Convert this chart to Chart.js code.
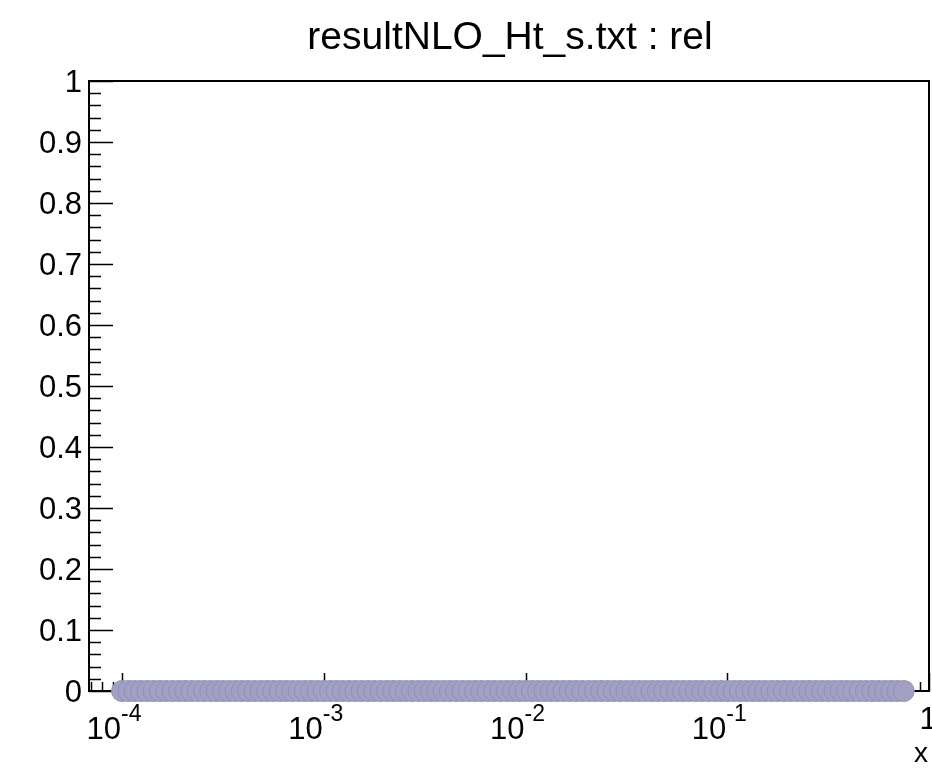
<!DOCTYPE html>
<html>
<head>
<meta charset="utf-8">
<script src="https://cdn.jsdelivr.net/npm/chart.js@4/dist/chart.umd.min.js"></script>
<style>
  html, body { margin: 0; padding: 0; background: #ffffff; }
  #wrap { width: 932px; height: 770px; position: relative; }
</style>
</head>
<body>
<div id="wrap"><canvas id="c" width="932" height="770"></canvas></div>
<script>
// ---- data ----
const chartTitle = "resultNLO_Ht_s.txt : rel";
const xAxisTitle = "x";
const xValues = [
  1.000e-4, 1.075e-4, 1.155e-4, 1.241e-4, 1.334e-4, 1.433e-4, 1.540e-4, 1.655e-4,
  1.778e-4, 1.911e-4, 2.054e-4, 2.207e-4, 2.371e-4, 2.548e-4, 2.738e-4, 2.943e-4,
  3.162e-4, 3.398e-4, 3.652e-4, 3.924e-4, 4.217e-4, 4.532e-4, 4.870e-4, 5.233e-4,
  5.623e-4, 6.043e-4, 6.494e-4, 6.978e-4, 7.499e-4, 8.058e-4, 8.660e-4, 9.306e-4,
  1.000e-3, 1.075e-3, 1.155e-3, 1.241e-3, 1.334e-3, 1.433e-3, 1.540e-3, 1.655e-3,
  1.778e-3, 1.911e-3, 2.054e-3, 2.207e-3, 2.371e-3, 2.548e-3, 2.738e-3, 2.943e-3,
  3.162e-3, 3.398e-3, 3.652e-3, 3.924e-3, 4.217e-3, 4.532e-3, 4.870e-3, 5.233e-3,
  5.623e-3, 6.043e-3, 6.494e-3, 6.978e-3, 7.499e-3, 8.058e-3, 8.660e-3, 9.306e-3,
  1.000e-2, 1.075e-2, 1.155e-2, 1.241e-2, 1.334e-2, 1.433e-2, 1.540e-2, 1.655e-2,
  1.778e-2, 1.911e-2, 2.054e-2, 2.207e-2, 2.371e-2, 2.548e-2, 2.738e-2, 2.943e-2,
  3.162e-2, 3.398e-2, 3.652e-2, 3.924e-2, 4.217e-2, 4.532e-2, 4.870e-2, 5.233e-2,
  5.623e-2, 6.043e-2, 6.494e-2, 6.978e-2, 7.499e-2, 8.058e-2, 8.660e-2, 9.306e-2,
  1.000e-1, 1.075e-1, 1.155e-1, 1.241e-1, 1.334e-1, 1.433e-1, 1.540e-1, 1.655e-1,
  1.778e-1, 1.911e-1, 2.054e-1, 2.207e-1, 2.371e-1, 2.548e-1, 2.738e-1, 2.943e-1,
  3.162e-1, 3.398e-1, 3.652e-1, 3.924e-1, 4.217e-1, 4.532e-1, 4.870e-1, 5.233e-1,
  5.623e-1, 6.043e-1, 6.494e-1, 6.978e-1, 7.499e-1
];
const relValues = [
  0, 0, 0, 0, 0, 0, 0, 0, 0, 0, 0, 0, 0, 0, 0, 0,
  0, 0, 0, 0, 0, 0, 0, 0, 0, 0, 0, 0, 0, 0, 0, 0,
  0, 0, 0, 0, 0, 0, 0, 0, 0, 0, 0, 0, 0, 0, 0, 0,
  0, 0, 0, 0, 0, 0, 0, 0, 0, 0, 0, 0, 0, 0, 0, 0,
  0, 0, 0, 0, 0, 0, 0, 0, 0, 0, 0, 0, 0, 0, 0, 0,
  0, 0, 0, 0, 0, 0, 0, 0, 0, 0, 0, 0, 0, 0, 0, 0,
  0, 0, 0, 0, 0, 0, 0, 0, 0, 0, 0, 0, 0, 0, 0, 0,
  0, 0, 0, 0, 0, 0, 0, 0, 0, 0, 0, 0, 0
];
const yTickValues = [0, 0.1, 0.2, 0.3, 0.4, 0.5, 0.6, 0.7, 0.8, 0.9, 1];
const yTickLabels = ["0", "0.1", "0.2", "0.3", "0.4", "0.5", "0.6", "0.7", "0.8", "0.9", "1"];
const xTickValues = [1e-4, 1e-3, 1e-2, 1e-1, 1];
const xTickBase = ["10", "10", "10", "10", "1"];
const xTickExp = ["-4", "-3", "-2", "-1", ""];

const points = xValues.map((x, i) => ({ x: x, y: relValues[i] }));
const FONT = "'Liberation Sans', Arial, Helvetica, sans-serif";

const rootDecor = {
  id: 'rootDecor',
  beforeDatasetsDraw(chart) {
    const ctx = chart.ctx;
    const xs = chart.scales.x, ys = chart.scales.y;
    const ca = chart.chartArea;
    ctx.save();
    ctx.strokeStyle = '#000';
    ctx.lineWidth = 1.5;
    // y minor ticks (every 0.02) and major
    for (let k = 0; k <= 50; k++) {
      const v = k * 0.02;
      const py = Math.round(ys.getPixelForValue(v)) + 0.5;
      const len = (k % 5 === 0) ? 24 : 12;
      ctx.beginPath();
      ctx.moveTo(ca.left, py);
      ctx.lineTo(ca.left + len, py);
      ctx.stroke();
    }
    // x log ticks
    for (let d = -5; d <= 0; d++) {
      for (let m = 1; m <= 9; m++) {
        const v = m * Math.pow(10, d);
        if (v < xs.min || v > xs.max) continue;
        const px = Math.round(xs.getPixelForValue(v)) + 0.5;
        const len = (m === 1) ? 18 : 9;
        ctx.beginPath();
        ctx.moveTo(px, ca.bottom);
        ctx.lineTo(px, ca.bottom - len);
        ctx.stroke();
      }
    }
    // frame
    ctx.lineWidth = 2;
    ctx.strokeRect(ca.left, ca.top, ca.right - ca.left, ca.bottom - ca.top);
    ctx.restore();
  },
  afterDraw(chart) {
    const ctx = chart.ctx;
    const xs = chart.scales.x, ys = chart.scales.y;
    const ca = chart.chartArea;
    ctx.save();
    ctx.fillStyle = '#000';
    // title
    ctx.font = '39px ' + FONT;
    ctx.textAlign = 'center';
    ctx.textBaseline = 'middle';
    ctx.fillText(chartTitle, 510, 38);
    // y tick labels
    ctx.font = '31px ' + FONT;
    ctx.textAlign = 'right';
    ctx.textBaseline = 'middle';
    yTickValues.forEach((v, i) => {
      ctx.fillText(yTickLabels[i], ca.left - 7, ys.getPixelForValue(v) + 2);
    });
    // x tick labels
    ctx.textBaseline = 'alphabetic';
    xTickValues.forEach((v, i) => {
      const px = xs.getPixelForValue(v);
      if (xTickExp[i]) {
        ctx.font = '31px ' + FONT;
        ctx.textAlign = 'right';
        ctx.fillText(xTickBase[i], px - 1, 739);
        ctx.font = '23px ' + FONT;
        ctx.textAlign = 'left';
        ctx.fillText(xTickExp[i], px - 1, 721);
      } else {
        ctx.font = '31px ' + FONT;
        ctx.textAlign = 'center';
        ctx.fillText(xTickBase[i], px - 1, 729);
      }
    });
    // axis title
    ctx.font = '28px ' + FONT;
    ctx.textAlign = 'right';
    ctx.fillText(xAxisTitle, 928, 762);
    ctx.restore();
  }
};

new Chart(document.getElementById('c'), {
  type: 'scatter',
  data: {
    datasets: [{
      label: 'rel',
      data: points,
      showLine: false,
      pointRadius: 10.5,
      pointHoverRadius: 10.5,
      backgroundColor: '#a4a0c4',
      borderColor: '#8c92b6',
      borderWidth: 1,
      clip: false
    }]
  },
  options: {
    responsive: false,
    animation: false,
    events: [],
    layout: { autoPadding: false, padding: { left: 89, right: 3, top: 81, bottom: 79 } },
    plugins: { legend: { display: false }, title: { display: false }, tooltip: { enabled: false } },
    scales: {
      x: { type: 'logarithmic', min: 6.86e-5, max: 1, display: false },
      y: { type: 'linear', min: 0, max: 1, display: false }
    }
  },
  plugins: [rootDecor]
});
</script>
</body>
</html>
